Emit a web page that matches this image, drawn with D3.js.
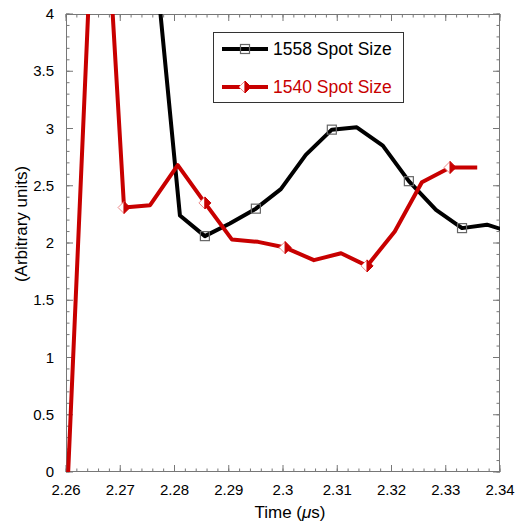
<!DOCTYPE html>
<html><head><meta charset="utf-8">
<script src="https://cdn.jsdelivr.net/npm/d3@7"></script>
<style>body{margin:0;background:#fff}svg{display:block}text{font-family:"Liberation Sans",Arial,Helvetica,sans-serif}</style>
</head><body>
<script>
const seriesNames = ["1558 Spot Size", "1540 Spot Size"];
const blackX = [2.2764, 2.2810, 2.2856, 2.2902, 2.2950, 2.2996, 2.3042, 2.3090, 2.3136, 2.3184, 2.3232, 2.3282, 2.3330, 2.3376, 2.3410];
const blackY = [4.5, 2.24, 2.06, 2.17, 2.30, 2.47, 2.77, 2.99, 3.01, 2.85, 2.54, 2.29, 2.13, 2.16, 2.11];
const blackMarker = [0, 0, 1, 0, 1, 0, 0, 1, 0, 0, 1, 0, 1, 0, 0];
const redX = [2.2604, 2.2660, 2.2707, 2.2755, 2.2806, 2.2856, 2.2906, 2.2954, 2.3004, 2.3057, 2.3107, 2.3155, 2.3206, 2.3256, 2.3308, 2.3358];
const redY = [0, 6.1, 2.31, 2.33, 2.68, 2.35, 2.03, 2.01, 1.96, 1.85, 1.91, 1.80, 2.10, 2.53, 2.66, 2.66];
const redMarker = [0, 0, 1, 0, 0, 1, 0, 0, 1, 0, 0, 1, 0, 0, 1, 0];
const xTicks = [2.26, 2.27, 2.28, 2.29, 2.3, 2.31, 2.32, 2.33, 2.34];
const xTickLabels = ["2.26", "2.27", "2.28", "2.29", "2.3", "2.31", "2.32", "2.33", "2.34"];
const yTicks = [0, 0.5, 1, 1.5, 2, 2.5, 3, 3.5, 4];
const yTickLabels = ["0", "0.5", "1", "1.5", "2", "2.5", "3", "3.5", "4"];

const W = 518, H = 527;
const m = {l: 66, r: 18, t: 14, b: 55};
const svg = d3.select("body").append("svg").attr("width", W).attr("height", H);
const x = d3.scaleLinear().domain([2.26, 2.34]).range([m.l, W - m.r]);
const y = d3.scaleLinear().domain([0, 4]).range([H - m.b, m.t]);
const RED = "#c80000";

svg.append("clipPath").attr("id", "clip").append("rect")
  .attr("x", m.l).attr("y", m.t).attr("width", W - m.r - m.l).attr("height", H - m.b - m.t);

const axisColor = "#777";
const xMinor = d3.range(0, 41).map(i => 2.26 + i * 0.002);
const yMinor = d3.range(0, 41).map(i => i * 0.1);
const g = svg.append("g");
function tickLines(vals, isX, len) {
  vals.forEach(v => {
    if (isX) {
      const px = x(v);
      g.append("line").attr("x1", px).attr("x2", px).attr("y1", y(0)).attr("y2", y(0) - len).attr("stroke", axisColor);
      g.append("line").attr("x1", px).attr("x2", px).attr("y1", y(4)).attr("y2", y(4) + len).attr("stroke", axisColor);
    } else {
      const py = y(v);
      g.append("line").attr("y1", py).attr("y2", py).attr("x1", x(2.26)).attr("x2", x(2.26) + len).attr("stroke", axisColor);
      g.append("line").attr("y1", py).attr("y2", py).attr("x1", x(2.34)).attr("x2", x(2.34) - len).attr("stroke", axisColor);
    }
  });
}
tickLines(xMinor, true, 3.5);
tickLines(xTicks, true, 7);
tickLines(yMinor, false, 3.5);
tickLines(yTicks, false, 7);

svg.append("rect").attr("x", m.l + 0.5).attr("y", m.t + 0.5)
  .attr("width", W - m.r - m.l - 1).attr("height", H - m.b - m.t - 1)
  .attr("fill", "none").attr("stroke", axisColor).attr("stroke-width", 1);

xTicks.forEach((v, i) => {
  svg.append("text").attr("x", x(v)).attr("y", y(0) + 23).attr("text-anchor", "middle")
    .attr("font-size", 15).attr("fill", "#000").text(xTickLabels[i]);
});
yTicks.forEach((v, i) => {
  svg.append("text").attr("x", m.l - 12).attr("y", y(v) + 5).attr("text-anchor", "end")
    .attr("font-size", 15).attr("fill", "#000").text(yTickLabels[i]);
});
const xt = svg.append("text").attr("x", 290).attr("y", 518).attr("text-anchor", "middle").attr("font-size", 17).attr("fill", "#000");
xt.append("tspan").text("Time (");
xt.append("tspan").attr("font-style", "italic").text("\u03bc");
xt.append("tspan").text("s)");
svg.append("text").attr("transform", "translate(27,224) rotate(-90)").attr("text-anchor", "middle")
  .attr("font-size", 17).attr("fill", "#000").text("(Arbitrary units)");

const line = d3.line().x(d => x(d[0])).y(d => y(d[1]));
const plot = svg.append("g").attr("clip-path", "url(#clip)");
const blackData = blackX.map((v, i) => [v, blackY[i]]);
const redData = redX.map((v, i) => [v, redY[i]]);
plot.append("path").attr("d", line(blackData)).attr("fill", "none").attr("stroke", "#000").attr("stroke-width", 4).attr("stroke-linejoin", "round");
plot.append("path").attr("d", line(redData)).attr("fill", "none").attr("stroke", RED).attr("stroke-width", 4).attr("stroke-linejoin", "round");

function square(sel, cx, cy) {
  sel.append("rect").attr("x", cx - 4.5).attr("y", cy - 4.5).attr("width", 9).attr("height", 9)
    .attr("fill", "none").attr("stroke", "#666").attr("stroke-width", 1.2);
}
function diamond(sel, cx, cy) {
  const s = 6;
  sel.append("path").attr("d", `M${cx},${cy - s}L${cx - s},${cy}L${cx},${cy + s}Z`)
    .attr("fill", "#fff").attr("stroke", "#e88").attr("stroke-width", 1);
  sel.append("path").attr("d", `M${cx},${cy - s}L${cx + s},${cy}L${cx},${cy + s}Z`)
    .attr("fill", RED).attr("stroke", RED).attr("stroke-width", 1);
}
blackData.forEach((d, i) => { if (blackMarker[i]) square(plot, x(d[0]), y(d[1])); });
redData.forEach((d, i) => { if (redMarker[i]) diamond(plot, x(d[0]), y(d[1])); });

const lg = svg.append("g");
lg.append("rect").attr("x", 213.5).attr("y", 32.5).attr("width", 190).attr("height", 70)
  .attr("fill", "#fff").attr("stroke", "#333").attr("stroke-width", 1);
lg.append("line").attr("x1", 222).attr("x2", 268).attr("y1", 49).attr("y2", 49).attr("stroke", "#000").attr("stroke-width", 4);
square(lg, 245, 49);
lg.append("text").attr("x", 273).attr("y", 55).attr("font-size", 17.5).attr("fill", "#000").text(seriesNames[0]);
lg.append("line").attr("x1", 222).attr("x2", 268).attr("y1", 87).attr("y2", 87).attr("stroke", RED).attr("stroke-width", 4);
diamond(lg, 245, 87);
lg.append("text").attr("x", 273).attr("y", 93).attr("font-size", 17.5).attr("fill", RED).text(seriesNames[1]);
</script>
</body></html>
